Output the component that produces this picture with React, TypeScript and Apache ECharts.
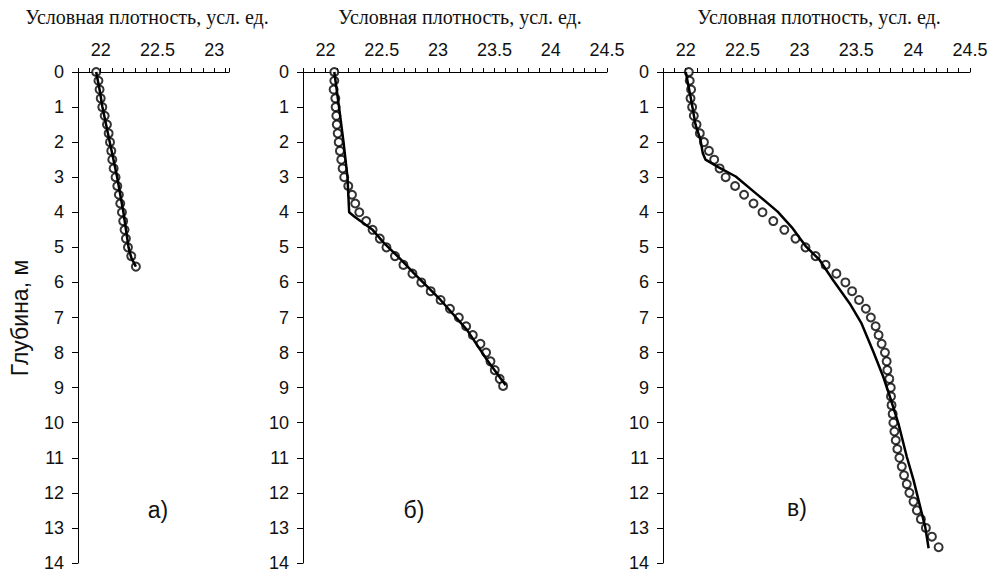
import React, { useEffect, useRef } from "react";
import * as echarts from "echarts";

// ---- Panel а) ----
const markerDepthA = [0, 0.25, 0.5, 0.75, 1, 1.25, 1.5, 1.75, 2, 2.25, 2.5, 2.75, 3, 3.25, 3.5, 3.75, 4, 4.25, 4.5, 4.75, 5, 5.25, 5.55];
const markerValA = [21.96, 21.98, 21.99, 22.0, 22.014, 22.035, 22.055, 22.07, 22.082, 22.093, 22.102, 22.114, 22.131, 22.146, 22.16, 22.172, 22.187, 22.198, 22.21, 22.222, 22.24, 22.269, 22.31];
const lineDepthA = [0, 0.5, 1, 2, 3, 4, 5, 5.3, 5.55];
const lineValA = [21.96, 21.99, 22.015, 22.08, 22.145, 22.2, 22.245, 22.27, 22.31];

// ---- Panel б) ----
const markerDepthB = [0, 0.25, 0.5, 0.75, 1, 1.25, 1.5, 1.75, 2, 2.25, 2.5, 2.75, 3, 3.25, 3.5, 3.75, 4, 4.25, 4.5, 4.75, 5, 5.25, 5.5, 5.75, 6, 6.25, 6.5, 6.75, 7, 7.25, 7.5, 7.75, 8, 8.25, 8.5, 8.75, 8.95];
const markerValB = [22.078, 22.078, 22.072, 22.087, 22.09, 22.096, 22.1, 22.108, 22.117, 22.128, 22.14, 22.152, 22.166, 22.202, 22.235, 22.264, 22.3, 22.361, 22.418, 22.482, 22.541, 22.617, 22.692, 22.772, 22.851, 22.934, 23.022, 23.105, 23.184, 23.249, 23.308, 23.376, 23.426, 23.465, 23.503, 23.547, 23.577];
const lineDepthB = [0, 1, 2, 3, 4, 4.12, 4.5, 4.88, 5.34, 5.74, 6.5, 7.36, 8.21, 8.93];
const lineValB = [22.078, 22.12, 22.16, 22.195, 22.21, 22.255, 22.418, 22.52, 22.668, 22.786, 23.022, 23.258, 23.435, 23.6];

// ---- Panel в) ----
const markerDepthC = [0, 0.25, 0.5, 0.75, 1, 1.25, 1.5, 1.75, 2, 2.25, 2.5, 2.75, 3, 3.25, 3.5, 3.75, 4, 4.25, 4.5, 4.75, 5, 5.25, 5.5, 5.75, 6, 6.25, 6.5, 6.75, 7, 7.25, 7.5, 7.75, 8, 8.25, 8.5, 8.75, 9, 9.25, 9.5, 9.75, 10, 10.25, 10.5, 10.75, 11, 11.25, 11.5, 11.75, 12, 12.25, 12.5, 12.75, 13, 13.25, 13.55];
const markerValC = [22.027, 22.035, 22.047, 22.042, 22.056, 22.071, 22.095, 22.124, 22.16, 22.204, 22.25, 22.298, 22.351, 22.434, 22.513, 22.596, 22.675, 22.77, 22.867, 22.965, 23.053, 23.142, 23.23, 23.325, 23.404, 23.463, 23.524, 23.584, 23.628, 23.67, 23.696, 23.723, 23.752, 23.767, 23.773, 23.79, 23.803, 23.805, 23.81, 23.82, 23.826, 23.835, 23.847, 23.861, 23.879, 23.9, 23.92, 23.944, 23.967, 24.003, 24.033, 24.068, 24.112, 24.165, 24.224];
const lineDepthC = [0, 0.7, 1.5, 1.94, 2.32, 2.5, 2.72, 2.98, 3.46, 3.98, 4.46, 4.98, 5.36, 5.93, 6.6, 7.17, 7.97, 8.69, 9.26, 10.02, 10.97, 11.63, 12.4, 12.97, 13.58];
const lineValC = [22.0, 22.042, 22.086, 22.13, 22.15, 22.174, 22.29, 22.44, 22.617, 22.808, 22.941, 23.059, 23.177, 23.295, 23.442, 23.546, 23.649, 23.737, 23.796, 23.87, 23.944, 24.003, 24.062, 24.106, 24.136];

// ---- Axes / labels ----
const xMin = 21.8;
const xMaxes = [23.13, 24.5, 24.5];
const depthMax = 14;
const xTitle = "Условная плотность, усл. ед.";
const yTitle = "Глубина, м";
const panelLabels = ["а)", "б)", "в)"];

const grids = [
  { left: 78, top: 72, width: 151, height: 491 },
  { left: 303, top: 72, width: 304, height: 491 },
  { left: 663, top: 72, width: 307, height: 491 },
];
const titleX = [147, 460, 819];
const labelPos = [
  [158, 510],
  [414, 510],
  [797, 508],
];

const sans = "Liberation Sans, Arial, sans-serif";
const serif = "Liberation Serif, Times New Roman, serif";

function pairs(vals: number[], depths: number[]) {
  return vals.map((v, i) => [v, depths[i]]);
}

export default function App() {
  const ref = useRef<HTMLDivElement>(null);
  useEffect(() => {
    const chart = echarts.init(ref.current!, null, { renderer: "svg" });
    const markers = [
      pairs(markerValA, markerDepthA),
      pairs(markerValB, markerDepthB),
      pairs(markerValC, markerDepthC),
    ];
    const lines = [
      pairs(lineValA, lineDepthA),
      pairs(lineValB, lineDepthB),
      pairs(lineValC, lineDepthC),
    ];
    const series: any[] = [];
    for (let i = 0; i < 3; i++) {
      series.push({
        type: "scatter",
        xAxisIndex: i,
        yAxisIndex: i,
        data: markers[i],
        symbol: "circle",
        symbolSize: 8,
        itemStyle: { color: "#fff", borderColor: "#000", borderWidth: 2 },
        z: 2,
      });
      series.push({
        type: "line",
        xAxisIndex: i,
        yAxisIndex: i,
        data: lines[i],
        showSymbol: false,
        symbol: "none",
        lineStyle: { color: "#000", width: 2.5 },
        z: 3,
      });
    }
    const option: any = {
      animation: false,
      backgroundColor: "#fff",
      grid: grids.map((g) => ({ ...g, containLabel: false })),
      xAxis: grids.map((_, i) => ({
        type: "value",
        gridIndex: i,
        position: "top",
        min: xMin,
        max: xMaxes[i],
        interval: 0.1,
        axisLine: { show: true, onZero: false, lineStyle: { color: "#000", width: 1 } },
        axisTick: { show: true, length: 4, lineStyle: { color: "#000", width: 1 } },
        splitLine: { show: false },
        axisLabel: {
          margin: 13,
          fontSize: 18,
          fontFamily: sans,
          color: "#111",
          showMaxLabel: true,
          formatter: (v: number) => {
            const d = v * 2;
            if (Math.abs(d - Math.round(d)) < 1e-6) return String(Math.round(d) / 2);
            return "";
          },
        },
      })),
      yAxis: grids.map((_, i) => ({
        type: "value",
        gridIndex: i,
        inverse: true,
        min: 0,
        max: depthMax,
        interval: 1,
        axisLine: { show: true, onZero: false, lineStyle: { color: "#000", width: 1 } },
        axisTick: { show: true, length: 6, lineStyle: { color: "#000", width: 1 } },
        splitLine: { show: false },
        axisLabel: { margin: 14, fontSize: 18, fontFamily: sans, color: "#111" },
      })),
      graphic: [
        ...titleX.map((x) => ({
          type: "text",
          x,
          y: 17,
          style: {
            text: xTitle,
            fontFamily: serif,
            fontSize: 20,
            fill: "#111",
            textAlign: "center",
            textVerticalAlign: "middle",
          },
        })),
        ...labelPos.map((p, i) => ({
          type: "text",
          x: p[0],
          y: p[1],
          style: {
            text: panelLabels[i],
            fontFamily: sans,
            fontSize: 23,
            fill: "#111",
            textAlign: "center",
            textVerticalAlign: "middle",
          },
        })),
        {
          type: "text",
          x: 20,
          y: 318,
          rotation: Math.PI / 2,
          style: {
            text: yTitle,
            fontFamily: sans,
            fontSize: 23,
            fill: "#111",
            textAlign: "center",
            textVerticalAlign: "middle",
          },
        },
      ],
      series,
    };
    chart.setOption(option);
    return () => chart.dispose();
  }, []);
  return (
    <div
      ref={ref}
      style={{ position: "fixed", left: 0, top: 0, width: 996, height: 573, background: "#fff" }}
    />
  );
}
